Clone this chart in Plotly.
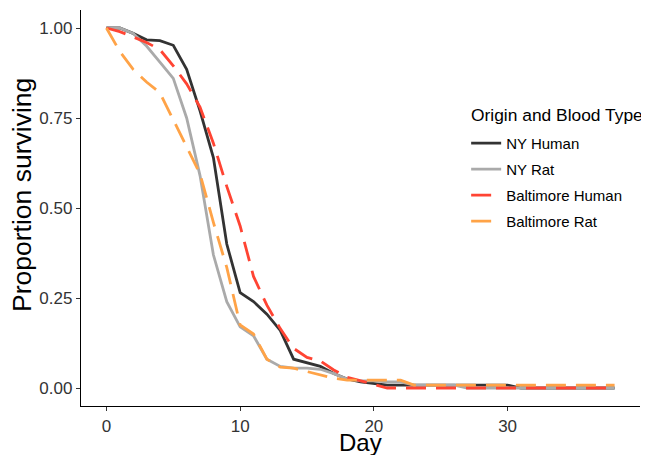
import plotly.graph_objects as go

days = list(range(0, 39))

ny_human = [1.00, 1.00, 0.985, 0.967, 0.965, 0.952, 0.885, 0.77, 0.64, 0.40,
            0.265, 0.24, 0.205, 0.16, 0.08, 0.07, 0.06, 0.04, 0.025, 0.017,
            0.012, 0.008, 0.008, 0.008, 0.008, 0.008, 0.008, 0.008, 0.008, 0.008,
            0.008, 0.0, 0.0, 0.0, 0.0, 0.0, 0.0, 0.0, 0.0]
ny_rat = [1.00, 1.00, 0.985, 0.95, 0.905, 0.86, 0.75, 0.59, 0.37, 0.24,
          0.17, 0.145, 0.08, 0.06, 0.055, 0.055, 0.052, 0.04, 0.025, 0.02,
          0.02, 0.017, 0.017, 0.008, 0.008, 0.008, 0.008, 0.0, 0.0, 0.0,
          0.0, 0.0, 0.0, 0.0, 0.0, 0.0, 0.0, 0.0, 0.0]
balt_human = [1.00, 0.99, 0.975, 0.96, 0.94, 0.895, 0.845, 0.78, 0.68, 0.56,
              0.45, 0.31, 0.23, 0.165, 0.11, 0.085, 0.075, 0.05, 0.03, 0.02,
              0.008, 0.0, 0.0, 0.0, 0.0, 0.0, 0.0, 0.0, 0.0, 0.0,
              0.0, 0.0, 0.0, 0.0, 0.0, 0.0, 0.0, 0.0, 0.0]
balt_rat = [1.00, 0.935, 0.885, 0.85, 0.82, 0.745, 0.67, 0.595, 0.46, 0.335,
            0.175, 0.15, 0.08, 0.058, 0.055, 0.045, 0.035, 0.027, 0.022, 0.022,
            0.022, 0.022, 0.022, 0.008, 0.008, 0.008, 0.008, 0.008, 0.008, 0.008,
            0.008, 0.008, 0.008, 0.008, 0.008, 0.008, 0.008, 0.008, 0.008]

series_names = ["NY Human", "NY Rat", "Baltimore Human", "Baltimore Rat"]
series_values = [ny_human, ny_rat, balt_human, balt_rat]
colors = ["#333333", "#aaaaaa", "#ff4433", "#ffa347"]
dashes = ["solid", "solid", "20px,10px", "20px,10px"]
legend_title = "Origin and Blood Type"

x_ticks = [0, 10, 20, 30]
y_ticks = [0.0, 0.25, 0.5, 0.75, 1.0]
y_ticklabels = ["0.00", "0.25", "0.50", "0.75", "1.00"]

FONT = "Liberation Sans, Arial, sans-serif"

fig = go.Figure()
for name, vals, col, dsh in zip(series_names, series_values, colors, dashes):
    fig.add_trace(go.Scatter(
        x=days, y=vals, mode="lines", name=name, legendgroup=name,
        line=dict(color=col, width=2.8, dash=dsh),
    ))

axis_common = dict(
    showgrid=False, zeroline=False, showline=True, linecolor="black", linewidth=1.3,
    ticks="outside", ticklen=4, tickwidth=1.2, tickcolor="#333333", automargin=False,
    tickfont=dict(family=FONT, size=17, color="#333333"),
)

# page body has an 8px default margin; figure sized so it ends at the window edge
fig.update_layout(
    width=641, height=447,
    margin=dict(l=73, r=9, t=2, b=49, autoexpand=False),
    plot_bgcolor="white", paper_bgcolor="white",
    font=dict(family=FONT, color="black"),
    xaxis=dict(range=[-1.9, 39.9], tickvals=x_ticks, **axis_common),
    yaxis=dict(range=[-0.05, 1.05], tickvals=y_ticks, ticktext=y_ticklabels, **axis_common),
    legend=dict(
        x=0.689, y=0.705, xanchor="left", yanchor="top",
        bgcolor="rgba(0,0,0,0)", tracegroupgap=3.5, itemwidth=30,
        font=dict(size=15, color="black"),
    ),
    showlegend=True,
    annotations=[
        dict(text=legend_title, xref="paper", yref="paper", x=0.6935, y=0.735,
             xanchor="left", yanchor="middle", showarrow=False,
             font=dict(family=FONT, size=17.4, color="black")),
        dict(text="Day", xref="paper", yref="paper", x=0.5, y=0, xanchor="center",
             yanchor="top", yshift=-21, showarrow=False,
             font=dict(family=FONT, size=24, color="black")),
        dict(text="Proportion surviving", xref="paper", yref="paper", x=0, y=0.533,
             xanchor="center", yanchor="middle", xshift=-59, textangle=-90,
             showarrow=False, font=dict(family=FONT, size=26.5, color="black")),
    ],
)

fig.write_html("out.html")
